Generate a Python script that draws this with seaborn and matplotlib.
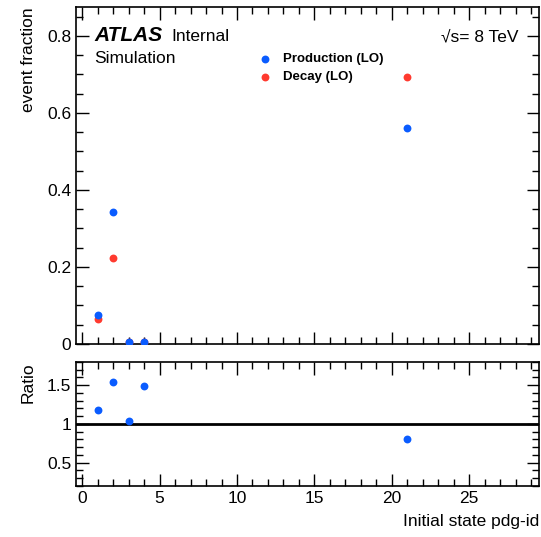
import pandas as pd
import seaborn as sns
import matplotlib.pyplot as plt
from matplotlib.ticker import MultipleLocator

# values
pdg_id = [1, 2, 3, 4, 21]
production = [0.075, 0.343, 0.005, 0.006, 0.561]
decay = [0.065, 0.223, 0.005, 0.004, 0.694]
ratio = [1.18, 1.545, 1.04, 1.49, 0.805]
ratio_err = [0.01, 0.01, 0.01, 0.03, 0.005]

blue = '#0a5cff'
red = '#ff3a2f'

sns.set_theme(style="ticks")
plt.rcParams['font.family'] = ['Liberation Sans', 'DejaVu Sans']
plt.rcParams.update({'text.color': 'black', 'axes.labelcolor': 'black',
                     'xtick.color': 'black', 'ytick.color': 'black'})

df = pd.DataFrame({
    'pdg': pdg_id * 2,
    'frac': production + decay,
    'sample': ['Production (LO)'] * 5 + ['Decay (LO)'] * 5,
})

fig = plt.figure(figsize=(5.41, 5.37), dpi=100)
ax = fig.add_axes([0.1405, 0.3594, 0.8555, 0.6276])
rax = fig.add_axes([0.1405, 0.095, 0.8555, 0.231], sharex=ax)

# decay drawn first so production sits on top
sns.scatterplot(data=df[df['sample'] == 'Decay (LO)'], x='pdg', y='frac', color=red,
                s=32, linewidth=0, ax=ax, label='Decay (LO)', zorder=3)
sns.scatterplot(data=df[df['sample'] == 'Production (LO)'], x='pdg', y='frac', color=blue,
                s=32, linewidth=0, ax=ax, label='Production (LO)', zorder=4)

rax.errorbar(pdg_id, ratio, yerr=ratio_err, fmt='none', ecolor=blue, elinewidth=1, zorder=3)
sns.scatterplot(x=pdg_id, y=ratio, color=blue, s=32, linewidth=0, ax=rax, zorder=4)
rax.axhline(1, color='black', lw=2, zorder=2)

ax.set_xlim(-0.4, 29.5)
ax.set_ylim(0, 0.875)
rax.set_ylim(0.2, 1.8)

for a in (ax, rax):
    a.xaxis.set_major_locator(MultipleLocator(5))
    a.xaxis.set_minor_locator(MultipleLocator(1))
    a.tick_params(which='both', direction='in', top=True, right=True, labelsize=12.5,
                  color='black', labelcolor='black', width=1)
    a.tick_params(which='major', length=9)
    a.tick_params(which='minor', length=5)
    for s in a.spines.values():
        s.set_color('black')
        s.set_linewidth(1.2)
    a.grid(False)

ax.yaxis.set_major_locator(MultipleLocator(0.2))
ax.yaxis.set_minor_locator(MultipleLocator(0.05))
ax.yaxis.set_major_formatter(plt.FuncFormatter(lambda v, p: '0' if abs(v) < 1e-9 else f'{v:g}'))
rax.yaxis.set_major_locator(MultipleLocator(0.5))
rax.yaxis.set_minor_locator(MultipleLocator(0.1))
rax.yaxis.set_major_formatter(plt.FuncFormatter(lambda v, p: f'{v:g}'))
plt.setp(ax.get_xticklabels(), visible=False)

ax.set_xlabel('')
ax.set_ylabel('event fraction', fontsize=12.5, loc='top', labelpad=8)
rax.set_ylabel('Ratio', fontsize=12.5, loc='top', labelpad=8)
rax.set_xlabel('Initial state pdg-id', fontsize=12.5, loc='right', labelpad=6)

handles, labels = ax.get_legend_handles_labels()
order = [labels.index('Production (LO)'), labels.index('Decay (LO)')]
leg = ax.legend([handles[i] for i in order], [labels[i] for i in order],
                loc='upper left', bbox_to_anchor=(0.365, 0.899), frameon=False,
                prop={'weight': 'bold', 'size': 9.5}, handletextpad=0.8,
                labelspacing=0.45, markerscale=1.0, handlelength=1.2)
for t in leg.get_texts():
    t.set_color('black')

ax.text(0.04, 0.899, 'ATLAS', transform=ax.transAxes, fontsize=15,
        fontweight='bold', style='italic', va='baseline')
ax.text(0.207, 0.899, 'Internal', transform=ax.transAxes, fontsize=12.5, va='baseline')
ax.text(0.04, 0.834, 'Simulation', transform=ax.transAxes, fontsize=12.5, va='baseline')
ax.text(0.955, 0.899, '√s= 8 TeV', transform=ax.transAxes, fontsize=12.5,
        va='baseline', ha='right')

fig.savefig('out.png', dpi=100)
